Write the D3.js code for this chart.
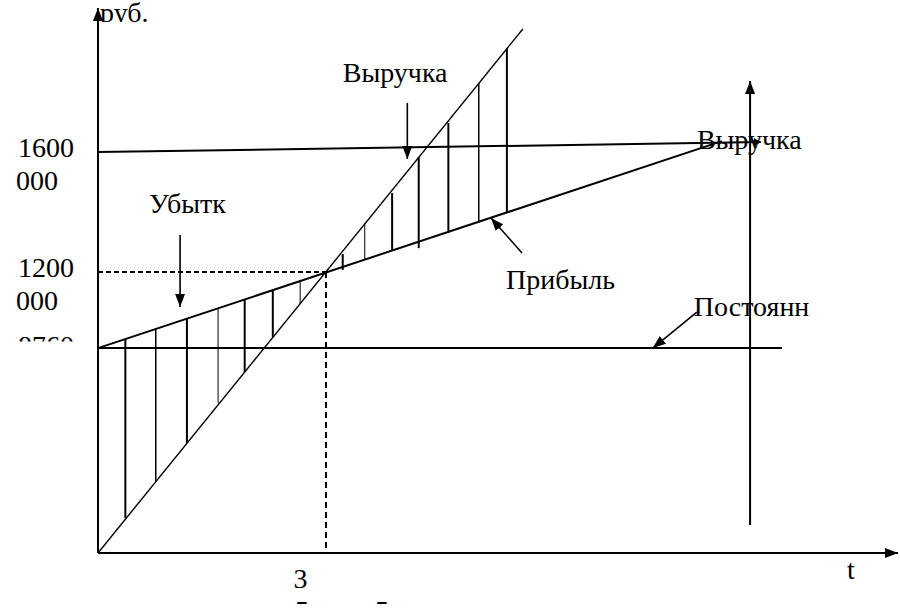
<!DOCTYPE html>
<html><head><meta charset="utf-8">
<script src="https://cdn.jsdelivr.net/npm/d3@7"></script>
<style>body{margin:0;background:#fff}svg{display:block}</style>
</head><body>
<script>
// ---- data (t = time units, values in roubles) ----
const revenueT = [0, 5.59];
const revenueV = [0, 2238000];
const costT = [0, 8.21];
const costV = [875000, 1759000];
const fixedT = [0, 9.0];
const fixedV = [875000, 875000];
const levelT = [0, 8.72];
const levelV = [1712000, 1755000];
const breakEvenT = 3;
const breakEvenV = 1200000;
const xTickValues = [3];
const xTickLabels = ["3"];
const yTickValues = [1712000, 1200000, 875000];
const yTickLabels = [["1600", "000"], ["1200", "000"], ["8760", "000"]];
const lossHatchT = [0.36, 0.76, 1.17, 1.58, 1.93, 2.30, 2.66];
const lossHatchTop = [914000, 961000, 1003000, 1046000, 1085000, 1123000, 1162000];
const lossHatchBottom = [149000, 303000, 470000, 641000, 773000, 922000, 1063000];
const lossHatchW = [2, 1.5, 2, 1, 2, 2, 1];
const profitHatchT = [3.22, 3.51, 3.87, 4.22, 4.61, 5.01, 5.38];
const profitHatchTop = [1277000, 1409000, 1537000, 1691000, 1836000, 2007000, 2157000];
const profitHatchBottom = [1209000, 1251000, 1294000, 1302000, 1367000, 1409000, 1452000];
const profitHatchW = [2, 1, 2, 2, 2, 1.5, 2];
const rightArrowT = 8.58;
const rightArrowV = [120000, 2007000];
// annotations: label + arrow (data coords)
const annLabels = ["Выручка", "Убытк", "Прибыль", "Постоянн", "Выручка"];
const annLabelT = [3.22, 0.67, 5.37, 7.84, 7.88];
const annLabelV = [2011000, 1452000, 1127000, 1012000, 1725000];
const annArrowFrom = [[4.07, 1922000], [1.08, 1358000], [5.58, 1281000], [7.88, 1029000]];
const annArrowTo = [[4.07, 1683000], [1.08, 1051000], [5.17, 1431000], [7.30, 875000]];

const FONT = "'Liberation Serif', 'Times New Roman', Times, serif";
const W = 900, H = 609;
const x = d3.scaleLinear().domain([0, 10.5]).range([98, 896]);
const y = d3.scaleLinear().domain([0, 1200000]).range([553, 272]);

const svg = d3.select("body").append("svg").attr("width", W).attr("height", H)
  .style("font-family", FONT);
const defs = svg.append("defs");
function marker(id, len, wid) {
  defs.append("marker").attr("id", id).attr("viewBox", `0 0 ${len} ${wid}`)
    .attr("refX", len).attr("refY", wid / 2).attr("markerWidth", len).attr("markerHeight", wid)
    .attr("markerUnits", "userSpaceOnUse").attr("orient", "auto")
    .append("path").attr("d", `M0,0L${len},${wid / 2}L0,${wid}Z`).attr("fill", "#000");
}
marker("ah", 13, 10);
marker("axh", 13, 10);
marker("small", 7, 8);
defs.append("clipPath").attr("id", "clipY").append("rect").attr("x", 0).attr("y", 0).attr("width", 97).attr("height", 341.5);
defs.append("clipPath").attr("id", "clipTop").append("rect").attr("x", 95).attr("y", 0).attr("width", 80).attr("height", 22);
defs.append("clipPath").attr("id", "clipBot").append("rect").attr("x", 0).attr("y", 595).attr("width", 900).attr("height", 9);

const line = d3.line().x(d => x(d[0])).y(d => y(d[1]));
const zip = (a, b) => a.map((v, i) => [v, b[i]]);
const txt = (g) => g.style("font-family", FONT).attr("font-size", 28).attr("fill", "#000");

// axes
svg.append("line").attr("x1", x(0)).attr("y1", y(0)).attr("x2", x(0)).attr("y2", 8)
  .attr("stroke", "#000").attr("stroke-width", 2).attr("marker-end", "url(#axh)");
svg.append("line").attr("x1", x(0)).attr("y1", y(0)).attr("x2", 898).attr("y2", y(0))
  .attr("stroke", "#000").attr("stroke-width", 2).attr("marker-end", "url(#axh)");

const xAxis = svg.append("g").attr("transform", `translate(0,${y(0)})`)
  .call(d3.axisBottom(x).tickValues(xTickValues).tickSize(0).tickFormat((d, i) => xTickLabels[i]));
xAxis.select(".domain").remove();
xAxis.attr("font-family", null).attr("font-size", null);
xAxis.selectAll("text").call(txt).attr("dy", 0).attr("y", 35).attr("dx", -26);

// clipped fragments below x axis
const bot = svg.append("g").attr("clip-path", "url(#clipBot)");
[302, 382].forEach(px => bot.append("text").call(txt).attr("x", px).attr("y", 620).attr("text-anchor", "middle").text("5"));

// y tick labels
const yl = svg.append("g").attr("clip-path", "url(#clipY)");
yTickValues.forEach((v, i) => {
  const t = yl.append("text").call(txt).attr("x", 17).attr("y", y(v) + 5 + (i === 2 ? 2 : 0));
  t.append("tspan").attr("x", 18).text(yTickLabels[i][0]);
  t.append("tspan").attr("x", 16).attr("dy", 33).text(yTickLabels[i][1]);
});

svg.append("g").attr("clip-path", "url(#clipTop)").append("text").call(txt).attr("x", 100).attr("y", 22).text("руб.");
svg.append("text").call(txt).attr("x", 847).attr("y", 579).text("t");

// dashed break-even guides
svg.append("path").attr("d", line([[0, breakEvenV], [breakEvenT, breakEvenV]]))
  .attr("stroke", "#000").attr("stroke-width", 2).attr("stroke-dasharray", "5,3").attr("fill", "none");
svg.append("path").attr("d", line([[breakEvenT, breakEvenV], [breakEvenT, 0]]))
  .attr("stroke", "#000").attr("stroke-width", 2).attr("stroke-dasharray", "6,4").attr("fill", "none");

// hatching
lossHatchT.forEach((t, i) => svg.append("line").attr("x1", x(t)).attr("x2", x(t))
  .attr("y1", y(lossHatchTop[i])).attr("y2", y(lossHatchBottom[i])).attr("stroke", "#000").attr("stroke-width", lossHatchW[i]));
profitHatchT.forEach((t, i) => svg.append("line").attr("x1", x(t)).attr("x2", x(t))
  .attr("y1", y(profitHatchTop[i])).attr("y2", y(profitHatchBottom[i])).attr("stroke", "#000").attr("stroke-width", profitHatchW[i]));

// main lines
svg.append("path").attr("d", line(zip(fixedT, fixedV))).attr("stroke", "#000").attr("stroke-width", 2).attr("fill", "none");
svg.append("path").attr("d", line(zip(levelT, levelV))).attr("stroke", "#000").attr("stroke-width", 2).attr("fill", "none").attr("marker-end", "url(#small)");
svg.append("path").attr("d", line(zip(costT, costV))).attr("stroke", "#000").attr("stroke-width", 2).attr("fill", "none");
svg.append("path").attr("d", line(zip(revenueT, revenueV))).attr("stroke", "#000").attr("stroke-width", 1.4).attr("fill", "none");

// right vertical arrow
svg.append("line").attr("x1", x(rightArrowT)).attr("x2", x(rightArrowT)).attr("y1", y(rightArrowV[0])).attr("y2", y(rightArrowV[1]) - 2)
  .attr("stroke", "#000").attr("stroke-width", 2).attr("marker-end", "url(#axh)");

// annotations
annArrowFrom.forEach((f, i) => svg.append("line").attr("x1", x(f[0])).attr("y1", y(f[1]))
  .attr("x2", x(annArrowTo[i][0])).attr("y2", y(annArrowTo[i][1]))
  .attr("stroke", "#000").attr("stroke-width", 1.6).attr("marker-end", "url(#ah)"));
annLabels.forEach((s, i) => svg.append("text").call(txt).attr("x", x(annLabelT[i])).attr("y", y(annLabelV[i])).text(s));
</script>
</body></html>
